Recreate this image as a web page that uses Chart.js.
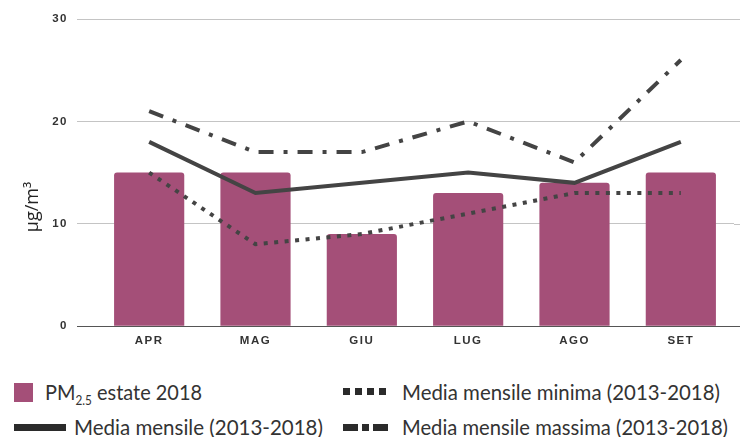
<!DOCTYPE html>
<html>
<head>
<meta charset="utf-8">
<script src="https://cdn.jsdelivr.net/npm/chart.js@4"></script>
<style>
  html, body { margin: 0; padding: 0; background: #fff; }
  #wrap { position: relative; width: 740px; height: 437px; overflow: hidden; }
  #c { position: absolute; left: 0; top: 0; }
  .lg { position: absolute; font-family: Lato, "Open Sans", sans-serif; font-size: 22px; color: #333; white-space: nowrap; line-height: 22px; transform-origin: 0 50%; }
  .mk { position: absolute; background: #2b2b2b; }
  sub { font-size: 13px; vertical-align: -5px; line-height: 0; }
  #ytitle { position: absolute; left: 31px; top: 207px; font-family: "Open Sans", sans-serif; font-size: 18px; color: #222; white-space: nowrap; transform: translate(-50%, -50%) rotate(-90deg); }
</style>
</head>
<body>
<div id="wrap">
  <canvas id="c" width="740" height="356"></canvas>
  <div id="ytitle">µg/m³</div>
  <!-- legend -->
  <div class="mk" style="left:14px;top:383px;width:19px;height:19px;background:#a44f78;"></div>
  <div class="lg" data-w="157" style="left:45px;top:381px;">PM<sub>2.5</sub> estate 2018</div>
  <div class="mk" style="left:14px;top:424px;width:52px;height:7px;"></div>
  <div class="lg" data-w="249" style="left:74px;top:416px;">Media mensile (2013-2018)</div>
  <div class="mk" style="left:343px;top:388px;width:7px;height:7px;"></div>
  <div class="mk" style="left:355px;top:388px;width:7px;height:7px;"></div>
  <div class="mk" style="left:367px;top:388px;width:7px;height:7px;"></div>
  <div class="mk" style="left:379px;top:388px;width:7px;height:7px;"></div>
  <div class="lg" data-w="318" style="left:402px;top:381px;">Media mensile minima (2013-2018)</div>
  <div class="mk" style="left:343px;top:424px;width:15px;height:7px;"></div>
  <div class="mk" style="left:362px;top:424px;width:7px;height:7px;"></div>
  <div class="mk" style="left:373px;top:424px;width:15px;height:7px;"></div>
  <div class="lg" data-w="326" style="left:402px;top:416px;">Media mensile massima (2013-2018)</div>
</div>
<script>
const categories = ["APR", "MAG", "GIU", "LUG", "AGO", "SET"];
const pm25Summer2018 = [15, 15, 9, 13, 14, 15];
const monthlyMean = [18, 13, 14, 15, 14, 18];
const monthlyMin = [15, 8, 9, 11, 13, 13];
const monthlyMax = [21, 17, 17, 20, 16, 26];
const yTicks = [0, 10, 20, 30];

const lineColor = '#444444';

// fit legend texts to the widths seen in the reference
document.querySelectorAll('.lg').forEach(el => {
  const w = el.getBoundingClientRect().width;
  const target = parseFloat(el.dataset.w);
  el.style.transform = 'scaleX(' + (target / w) + ')';
});

const spacing = {
  id: 'spacing',
  beforeUpdate(chart) { chart.ctx.letterSpacing = '1.5px'; },
  beforeDraw(chart) { chart.ctx.letterSpacing = '1.5px'; }
};

const extendGrid = {
  id: 'extendGrid',
  beforeDatasetsDraw(chart) {
    const y = chart.scales.y;
    const ctx = chart.ctx;
    ctx.save();
    ctx.lineWidth = 1;
    yTicks.forEach(v => {
      const py = Math.round(y.getPixelForValue(v)) + 0.5;
      ctx.strokeStyle = v === 0 ? '#555555' : '#c4c4c4';
      ctx.beginPath();
      ctx.moveTo(chart.chartArea.right, py);
      ctx.lineTo(chart.width, py);
      ctx.stroke();
    });
    ctx.restore();
  }
};

const tickFont = { family: '"Liberation Sans", Arial, sans-serif', size: 11.5, weight: 'bold' };

new Chart(document.getElementById('c'), {
  type: 'bar',
  data: {
    labels: categories,
    datasets: [
      {
        type: 'bar',
        label: 'PM2.5 estate 2018',
        data: pm25Summer2018,
        backgroundColor: '#a44f78',
        borderRadius: { topLeft: 3, topRight: 3 },
        borderSkipped: 'bottom',
        categoryPercentage: 1,
        barPercentage: 0.66,
        order: 10
      },
      {
        type: 'line',
        label: 'Media mensile (2013-2018)',
        data: monthlyMean,
        borderColor: lineColor,
        borderWidth: 4,
        pointRadius: 0,
        tension: 0,
        fill: false,
        order: 1
      },
      {
        type: 'line',
        label: 'Media mensile minima (2013-2018)',
        data: monthlyMin,
        borderColor: lineColor,
        borderWidth: 4,
        borderDash: [4, 6.5],
        pointRadius: 0,
        tension: 0,
        fill: false,
        order: 2
      },
      {
        type: 'line',
        label: 'Media mensile massima (2013-2018)',
        data: monthlyMax,
        borderColor: lineColor,
        borderWidth: 4,
        borderDash: [15, 10, 4, 10],
        pointRadius: 0,
        tension: 0,
        fill: false,
        order: 3
      }
    ]
  },
  options: {
    responsive: false,
    animation: false,
    layout: { padding: { top: 19, right: 6, bottom: 0, left: 0 } },
    plugins: { legend: { display: false }, tooltip: { enabled: false } },
    scales: {
      x: {
        grid: { display: false, drawTicks: false },
        border: { display: false },
        ticks: { padding: 8, color: '#333', font: tickFont }
      },
      y: {
        min: 0,
        max: 30,
        afterFit(scale) { scale.width = 96; },
        afterBuildTicks(scale) { scale.ticks = yTicks.map(v => ({ value: v })); },
        grid: {
          color: ctx => (ctx.tick && ctx.tick.value === 0) ? '#555555' : '#c4c4c4',
          lineWidth: 1,
          drawTicks: true,
          tickLength: 19
        },
        border: { display: false },
        ticks: { padding: 9, color: '#333', font: tickFont },
        title: { display: false }
      }
    }
  },
  plugins: [spacing, extendGrid]
});
</script>
</body>
</html>
